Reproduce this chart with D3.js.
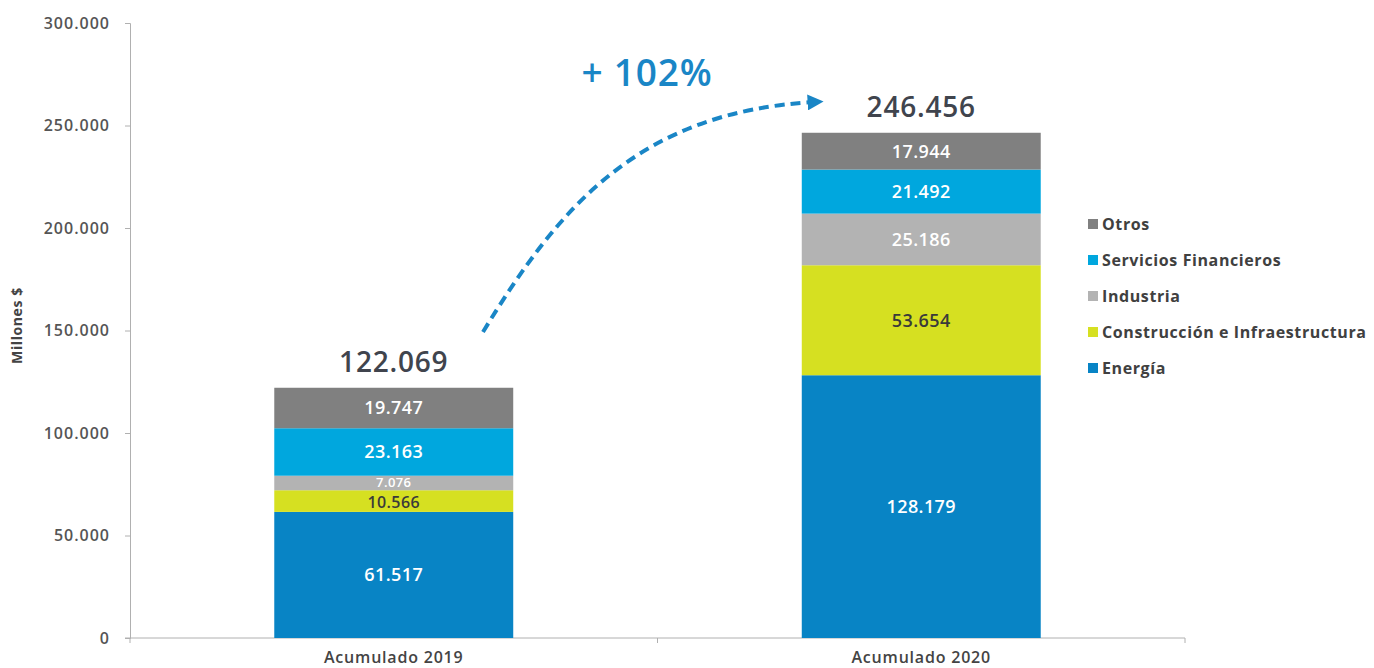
<!DOCTYPE html>
<html>
<head>
<meta charset="utf-8">
<script src="https://cdn.jsdelivr.net/npm/d3@7"></script>
<style>
  body { margin: 0; background: #fff; }
  text { font-family: "Open Sans", "DejaVu Sans", sans-serif; }
</style>
</head>
<body>
<div id="chart"></div>
<script>
// datos
const categories = ['Acumulado 2019', 'Acumulado 2020'];
const sectors = ['Energía', 'Construcción e Infraestructura', 'Industria', 'Servicios Financieros', 'Otros'];
const energia = [61517, 128179];
const construccion = [10566, 53654];
const industria = [7076, 25186];
const servicios = [23163, 21492];
const otros = [19747, 17944];
const totals = ['122.069', '246.456'];
const yTicks = [0, 50000, 100000, 150000, 200000, 250000, 300000];
const growthLabel = '+ 102%';

const colors = ['#0884c5', '#d6e021', '#b3b3b3', '#00a7de', '#808080'];
const labelColors = ['#ffffff', '#3a3a3a', '#ffffff', '#ffffff', '#ffffff'];

const W = 1374, H = 668;
const margin = { top: 23, right: 189, bottom: 30, left: 130 };
const width = W - margin.left - margin.right;
const height = H - margin.top - margin.bottom;

const fmt = v => d3.format(',')(v).replace(/,/g, '.');

const svg = d3.select('#chart').append('svg')
  .attr('width', W).attr('height', H);
const g = svg.append('g').attr('transform', `translate(${margin.left},${margin.top})`);

const x = d3.scaleBand().domain(categories).range([0, width]).paddingInner(0.547).paddingOuter(0.2735);
const y = d3.scaleLinear().domain([0, 300000]).range([height, 0]);

const rows = categories.map((c, i) => ({
  cat: c,
  'Energía': energia[i],
  'Construcción e Infraestructura': construccion[i],
  'Industria': industria[i],
  'Servicios Financieros': servicios[i],
  'Otros': otros[i]
}));
const stack = d3.stack().keys(sectors)(rows);

// eje y
const yAxis = g.append('g')
  .call(d3.axisLeft(y).tickValues(yTicks).tickSize(5).tickPadding(15)
    .tickFormat(d => d === 0 ? '0' : fmt(d)));
yAxis.select('.domain').attr('stroke', '#b0b0b0');
yAxis.selectAll('.tick line').attr('stroke', '#b0b0b0');
yAxis.selectAll('.tick text').attr('fill', '#555')
  .style('font-size', '16px').style('font-weight', 600).style('letter-spacing', '1px');

// eje x
const xAxis = g.append('g').attr('transform', `translate(0,${height})`)
  .call(d3.axisBottom(x).tickSize(0).tickPadding(14));
xAxis.select('.domain').attr('stroke', '#b0b0b0').attr('d', `M-5,0H${width}`);
xAxis.selectAll('.tick text').attr('fill', '#444')
  .style('font-size', '16px').style('font-weight', 600).style('letter-spacing', '0.8px');
[0, width / 2, width].forEach(px => {
  xAxis.append('line').attr('x1', px).attr('x2', px).attr('y1', 0).attr('y2', 5).attr('stroke', '#b0b0b0');
});

// título eje y
svg.append('text')
  .attr('transform', `translate(22,${margin.top + height / 2 - 5}) rotate(-90)`)
  .attr('text-anchor', 'middle')
  .attr('fill', '#444')
  .style('font-size', '14px').style('font-weight', 700).style('letter-spacing', '0.6px')
  .text('Millones $');

// barras
stack.forEach((layer, k) => {
  const lg = g.append('g');
  lg.selectAll('rect').data(layer).join('rect')
    .attr('x', d => x(d.data.cat))
    .attr('width', x.bandwidth())
    .attr('y', d => y(d[1]))
    .attr('height', d => y(d[0]) - y(d[1]))
    .attr('fill', colors[k]);
  // segmentos finos: texto más chico para que no se pisen
  const size = d => {
    const h = y(d[0]) - y(d[1]);
    return h < 16 ? 13 : h < 25 ? 16 : 18;
  };
  lg.selectAll('text').data(layer).join('text')
    .attr('x', d => x(d.data.cat) + x.bandwidth() / 2)
    .attr('y', d => (y(d[0]) + y(d[1])) / 2 + (size(d) === 13 ? -1 : size(d) === 16 ? 1 : 0))
    .attr('dy', '0.36em')
    .attr('text-anchor', 'middle')
    .attr('fill', labelColors[k])
    .style('font-size', d => size(d) + 'px')
    .style('font-weight', 600).style('letter-spacing', '0.4px')
    .text(d => fmt(d[1] - d[0]));
});

// totales
g.selectAll('.total').data(categories).join('text')
  .attr('class', 'total')
  .attr('x', d => x(d) + x.bandwidth() / 2)
  .attr('y', (d, i) => y(d3.sum(stack, l => l[i][1] - l[i][0])) - 16)
  .attr('text-anchor', 'middle')
  .attr('fill', '#40444d')
  .style('font-size', '28px').style('font-weight', 600).style('letter-spacing', '0.8px')
  .text((d, i) => totals[i]);

// flecha de crecimiento
svg.append('defs').append('marker')
  .attr('id', 'arrow').attr('viewBox', '0 0 10 10')
  .attr('refX', 4).attr('refY', 5)
  .attr('markerWidth', 4).attr('markerHeight', 4)
  .attr('orient', 'auto')
  .append('path').attr('d', 'M0,0L10,5L0,10z').attr('fill', '#1a86c6');

svg.append('path')
  .attr('d', 'M483,332 C560,205 640,112 814,102')
  .attr('fill', 'none')
  .attr('stroke', '#1a86c6')
  .attr('stroke-width', 4)
  .attr('stroke-dasharray', '10,6')
  .attr('marker-end', 'url(#arrow)');

svg.append('text')
  .attr('x', 647).attr('y', 86)
  .attr('text-anchor', 'middle')
  .attr('fill', '#1a86c6')
  .style('font-size', '37px').style('font-weight', 600).style('letter-spacing', '0.8px')
  .text(growthLabel);

// leyenda
const legend = svg.append('g').attr('transform', 'translate(1088,224)');
const legendOrder = sectors.slice().reverse();
legendOrder.forEach((s, i) => {
  const row = legend.append('g').attr('transform', `translate(0,${i * 36})`);
  row.append('rect').attr('x', 0).attr('y', -5).attr('width', 10).attr('height', 10)
    .attr('fill', colors[sectors.indexOf(s)]);
  row.append('text').attr('x', 14).attr('y', 0).attr('dy', '0.36em')
    .attr('fill', '#404040')
    .style('font-size', '16px').style('font-weight', 700).style('letter-spacing', '0.6px')
    .text(s);
});
</script>
</body>
</html>
